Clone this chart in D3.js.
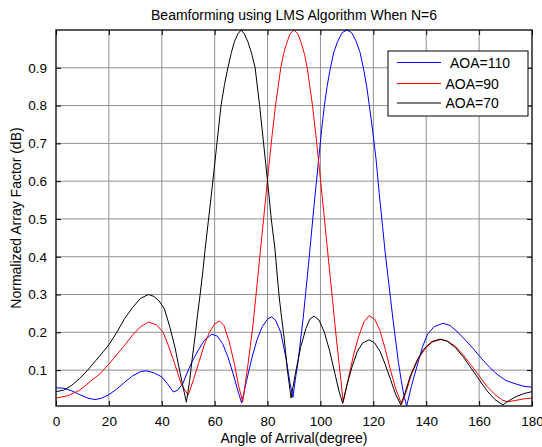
<!DOCTYPE html>
<html>
<head>
<meta charset="utf-8">
<script src="https://d3js.org/d3.v7.min.js"></script>
<style>
  body { margin: 0; background: #fff; }
  text { font-family: "Liberation Sans", Arial, sans-serif; fill: #000; }
</style>
</head>
<body>
<script>
// angle (degree) , normalized array factor
var aoa110 = [
  [0,0.053],[3,0.052],[6,0.045],[9,0.035],[12,0.026],[14.7,0.022],[17,0.025],[20,0.035],
  [23,0.05],[26,0.068],[29,0.085],[32,0.096],[34,0.098],[37,0.093],[40,0.082],[42,0.065],
  [44.4,0.042],[46,0.047],[48,0.065],[50,0.1],[52,0.13],[54,0.155],[56,0.178],[58.9,0.195],
  [61,0.19],[63,0.17],[65,0.135],[67,0.09],[69,0.04],[70.2,0.013],[72,0.07],[74,0.13],
  [76,0.18],[78,0.215],[80,0.235],[81.6,0.241],[83,0.232],[85,0.2],[87,0.13],[88.5,0.065],
  [89.6,0.028],[90.5,0.075],[91.5,0.12],[92.5,0.18],[93.5,0.24],[94.5,0.31],[95.5,0.38],
  [96.5,0.455],[97.5,0.53],[98.5,0.6],[99.5,0.67],[100.5,0.74],[101.5,0.8],[102.5,0.85],
  [103.5,0.89],[105,0.94],[106.5,0.97],[108.2,0.993],[110,1.0],[111.8,0.993],[113.5,0.97],
  [115,0.94],[116.5,0.89],[117.5,0.85],[118.5,0.8],[119.8,0.73],[121,0.66],[122.2,0.57],
  [123.5,0.48],[124.5,0.41],[125.5,0.35],[126.5,0.29],[127.5,0.23],[128.5,0.175],[129.5,0.12],
  [130.5,0.075],[131.5,0.035],[132.6,0.005],[134.5,0.06],[136.5,0.11],[138.5,0.16],[140.5,0.195],
  [143,0.215],[146.4,0.224],[149,0.218],[152,0.2],[155,0.178],[158,0.155],[161,0.13],
  [164,0.107],[167,0.088],[170,0.073],[174,0.063],[177,0.057],[180,0.055]
];
var aoa90 = [
  [0,0.026],[4.5,0.032],[9,0.047],[13,0.07],[16.6,0.09],[20.4,0.119],[25.5,0.162],[29,0.193],
  [32,0.215],[35,0.227],[38,0.22],[40.5,0.2],[42.5,0.165],[44.4,0.127],[47.5,0.06],[50,0.034],
  [52,0.075],[54,0.12],[56,0.165],[58,0.2],[60,0.222],[61.8,0.23],[63.5,0.218],[65.5,0.175],
  [67.5,0.115],[69,0.06],[70.6,0.016],[71.5,0.06],[72.5,0.11],[73.5,0.165],[74.5,0.22],
  [75.5,0.29],[76.5,0.36],[77.5,0.43],[78.5,0.5],[79.5,0.57],[80.5,0.64],[81.7,0.72],[83,0.8],
  [84,0.85],[85,0.9],[86,0.935],[87,0.96],[88.5,0.99],[90,1.0],[91.5,0.99],[93,0.96],
  [94,0.935],[95,0.9],[96,0.85],[97,0.8],[98.3,0.72],[99.5,0.64],[100.5,0.57],[101.5,0.5],
  [102.5,0.43],[103.5,0.36],[104.5,0.29],[105.5,0.22],[106.3,0.165],[107,0.12],[107.8,0.07],
  [108.6,0.015],[110.5,0.075],[112.5,0.14],[114.5,0.19],[116.5,0.228],[118.4,0.244],
  [120.5,0.235],[122.5,0.205],[124.5,0.155],[126.5,0.1],[128.5,0.05],[130.7,0.01],[132.5,0.045],
  [134.5,0.09],[137,0.13],[140,0.16],[142.5,0.175],[145.5,0.181],[148,0.177],[151,0.163],
  [154,0.14],[157,0.113],[160,0.085],[163,0.057],[166,0.035],[169,0.02],[171,0.016],
  [174,0.02],[177,0.024],[180,0.026]
];
var aoa70 = [
  [0,0.043],[3,0.047],[6,0.06],[9,0.078],[12,0.1],[15,0.125],[18,0.15],[20,0.167],
  [23,0.2],[26,0.237],[29,0.266],[32,0.29],[35,0.3],[37,0.295],[39,0.283],[41,0.262],
  [43,0.215],[45,0.16],[47,0.09],[49.3,0.015],[50.5,0.07],[51.5,0.13],[52.6,0.19],
  [53.5,0.245],[54.5,0.3],[55.5,0.36],[56.4,0.42],[57.7,0.5],[59,0.58],[60.7,0.69],[62.4,0.8],
  [63.7,0.855],[65,0.9],[66.3,0.94],[67.5,0.97],[68.8,0.99],[70,1.0],[71.2,0.99],[72.5,0.97],
  [73.9,0.94],[75.3,0.9],[77,0.8],[78.5,0.7],[80,0.6],[81.4,0.5],[82.8,0.42],[84.3,0.3],
  [85.2,0.245],[86.2,0.19],[87.5,0.1],[88.9,0.026],[90.5,0.09],[92.5,0.16],[94.5,0.21],
  [96,0.235],[97.6,0.243],[99.5,0.232],[101.5,0.2],[103.5,0.15],[105.5,0.09],[107,0.045],
  [108.4,0.012],[110,0.06],[112,0.11],[114,0.15],[116,0.172],[118.4,0.18],[120.5,0.172],
  [122.5,0.15],[124.5,0.115],[126.5,0.075],[128.5,0.035],[130.4,0.008],[132,0.04],[134,0.085],
  [136.5,0.125],[139,0.155],[142,0.175],[145.2,0.182],[148,0.176],[151,0.16],[154,0.135],
  [157,0.105],[160,0.075],[163,0.045],[166,0.022],[169,0.008],[171,0.018],[174,0.03],
  [177,0.038],[180,0.043]
];
var xTicks = [0,20,40,60,80,100,120,140,160,180];
var yTicks = [0.1,0.2,0.3,0.4,0.5,0.6,0.7,0.8,0.9];
var seriesNames = ["AOA=110","AOA=90","AOA=70"];
var seriesColors = ["#0000ff","#ff0000","#000000"];

var W = 542, H = 447;
var margin = {top: 30, right: 10, bottom: 41, left: 56};
var width = W - margin.left - margin.right,
    height = H - margin.top - margin.bottom;

var svg = d3.select("body").append("svg")
    .attr("width", W).attr("height", H);
var g = svg.append("g")
    .attr("transform", "translate(" + margin.left + "," + margin.top + ")");

var x = d3.scaleLinear().domain([0, 180]).range([0, width]);
var y = d3.scaleLinear().domain([0.005, 1.0]).range([height, 0]);

// grid
g.append("g").selectAll("line").data(xTicks.slice(1, -1)).enter().append("line")
    .attr("x1", d => x(d)).attr("x2", d => x(d))
    .attr("y1", 0).attr("y2", height)
    .attr("stroke", "#909090").attr("stroke-width", 1);
g.append("g").selectAll("line").data(yTicks).enter().append("line")
    .attr("x1", 0).attr("x2", width)
    .attr("y1", d => y(d)).attr("y2", d => y(d))
    .attr("stroke", "#909090").attr("stroke-width", 1);

// curves
var line = d3.line()
    .x(d => x(d[0]))
    .y(d => y(d[1]));
[aoa110, aoa90, aoa70].forEach(function(s, i) {
  g.append("path").datum(s)
    .attr("fill", "none")
    .attr("stroke", seriesColors[i])
    .attr("stroke-width", 1)
    .attr("d", line);
});

// axes (ticks inward, MATLAB style)
var xAxis = d3.axisBottom(x).tickValues(xTicks).tickSize(-5).tickPadding(10).tickFormat(d3.format("d"));
var xAxisTop = d3.axisTop(x).tickValues(xTicks).tickSize(-5).tickFormat("");
var yAxis = d3.axisLeft(y).tickValues(yTicks).tickSize(-5).tickPadding(9).tickFormat(d3.format(".1f"));
var yAxisRight = d3.axisRight(y).tickValues(yTicks).tickSize(-5).tickFormat("");

function style(sel) {
  sel.select(".domain").remove();
  sel.selectAll(".tick line").attr("stroke", "#000");
  sel.selectAll(".tick text").style("font-size", "13.5px")
     .style("font-family", "'Liberation Sans', Arial, sans-serif").attr("fill", "#000");
}
g.append("g").attr("transform", "translate(0," + height + ")").call(xAxis).call(style);
g.append("g").call(xAxisTop).call(style);
g.append("g").call(yAxis).call(style);
g.append("g").attr("transform", "translate(" + width + ",0)").call(yAxisRight).call(style);

g.append("rect")
    .attr("x", 0).attr("y", 0).attr("width", width).attr("height", height)
    .attr("fill", "none").attr("stroke", "#000").attr("stroke-width", 1.3);

// labels
svg.append("text")
    .attr("x", margin.left + width / 2).attr("y", 19.5)
    .attr("text-anchor", "middle").style("font-size", "14px")
    .text("Beamforming using LMS Algorithm When N=6");
svg.append("text")
    .attr("x", margin.left + width / 2).attr("y", 442.5)
    .attr("text-anchor", "middle").style("font-size", "14px")
    .text("Angle of Arrival(degree)");
svg.append("text")
    .attr("transform", "translate(21," + (margin.top + height / 2) + ") rotate(-90)")
    .attr("text-anchor", "middle").style("font-size", "14px")
    .text("Normalized Array Factor (dB)");

// legend
var lg = svg.append("g").attr("transform", "translate(388,51)");
lg.append("rect").attr("width", 140).attr("height", 65)
    .attr("fill", "#fff").attr("stroke", "#000").attr("stroke-width", 1);
var rows = [11.5, 32.5, 52];
var textX = [62, 57.5, 57.5];
seriesNames.forEach(function(name, i) {
  lg.append("line")
    .attr("x1", 9).attr("x2", 53).attr("y1", rows[i]).attr("y2", rows[i])
    .attr("stroke", seriesColors[i]).attr("stroke-width", 1);
  lg.append("text")
    .attr("x", textX[i]).attr("y", rows[i] + 5)
    .style("font-size", "14px")
    .text(name);
});
</script>
</body>
</html>
